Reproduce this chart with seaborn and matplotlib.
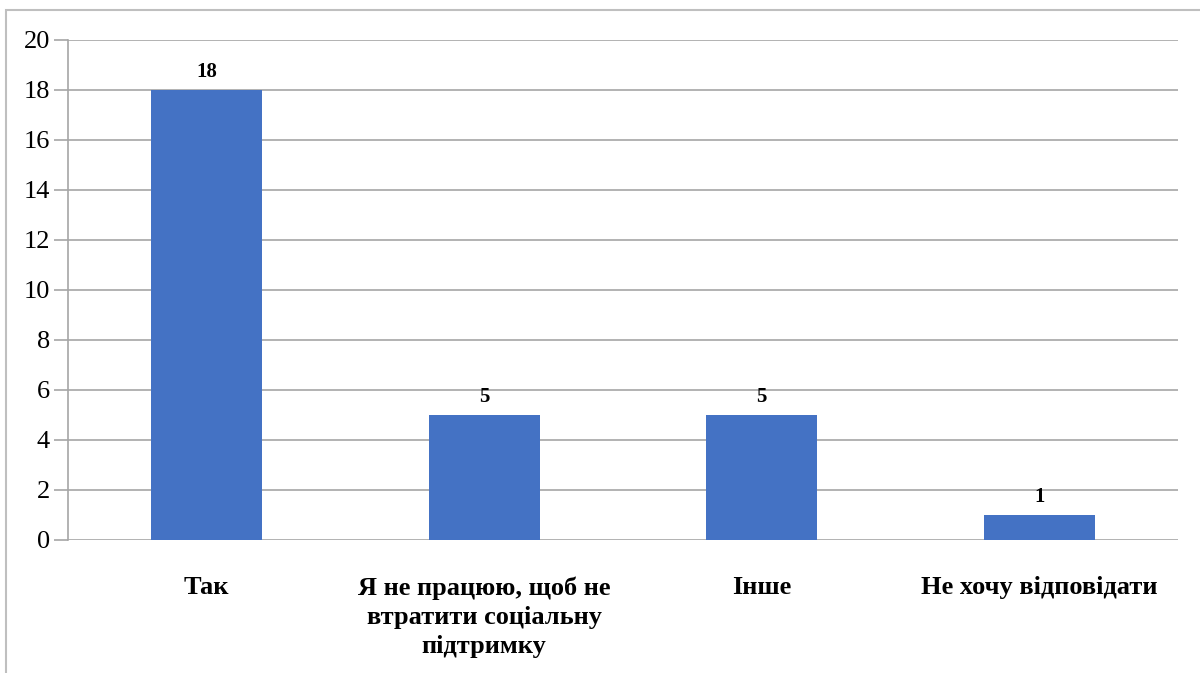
import matplotlib
matplotlib.use("Agg")
import matplotlib.pyplot as plt
import seaborn as sns
import pandas as pd
from matplotlib.patches import Rectangle

categories = ["Так", "Я не працюю, щоб не\nвтратити соціальну\nпідтримку", "Інше", "Не хочу відповідати"]
values = [18, 5, 5, 1]
yticks = [0, 2, 4, 6, 8, 10, 12, 14, 16, 18, 20]

sns.set_theme(style="white")
plt.rcParams['font.family'] = ['Liberation Serif', 'DejaVu Serif']
plt.rcParams['text.color'] = 'black'
plt.rcParams['xtick.color'] = 'black'
plt.rcParams['ytick.color'] = 'black'

df = pd.DataFrame({"cat": categories, "val": values})

fig = plt.figure(figsize=(12, 6.73), dpi=100)
ax = fig.add_axes([68/1200, 1 - 540/673, (1178-68)/1200, 500/673])

sns.barplot(data=df, x="cat", y="val", color="#4472C4", width=0.4, ax=ax,
            saturation=1, linewidth=0)

ax.set_ylim(0, 20)
ax.set_yticks(yticks)
ax.set_yticklabels([str(t) for t in yticks], fontsize=19)
ax.set_xlim(-0.5, len(categories) - 0.5)
ax.set_xlabel("")
ax.set_ylabel("")
ax.grid(axis="y", color="#a6a6a6", linewidth=1.2)
ax.set_axisbelow(True)
for s in ["top", "right", "bottom"]:
    ax.spines[s].set_visible(False)
ax.spines["left"].set_color("#a6a6a6")
ax.spines["left"].set_linewidth(1.2)
ax.tick_params(axis="y", length=10, width=1.2, color="#a6a6a6", pad=3, labelcolor="black", left=True)
ax.tick_params(axis="x", length=0, pad=26, labelcolor="black")
for lbl in ax.get_xticklabels():
    lbl.set_fontweight("bold")
    lbl.set_fontsize(19)
    lbl.set_linespacing(1.35)
    lbl.set_verticalalignment("top")

for c in ax.containers:
    ax.bar_label(c, labels=[str(v) for v in values], fontsize=15, fontweight="bold",
                 padding=6, color="black")

fig.patches.append(Rectangle((6/1200, -0.5), 2.0, 1.5 - 10/673, transform=fig.transFigure,
                             fill=False, edgecolor="#bfbfbf", linewidth=1.5, zorder=0))

fig.savefig("out.png", dpi=100)
